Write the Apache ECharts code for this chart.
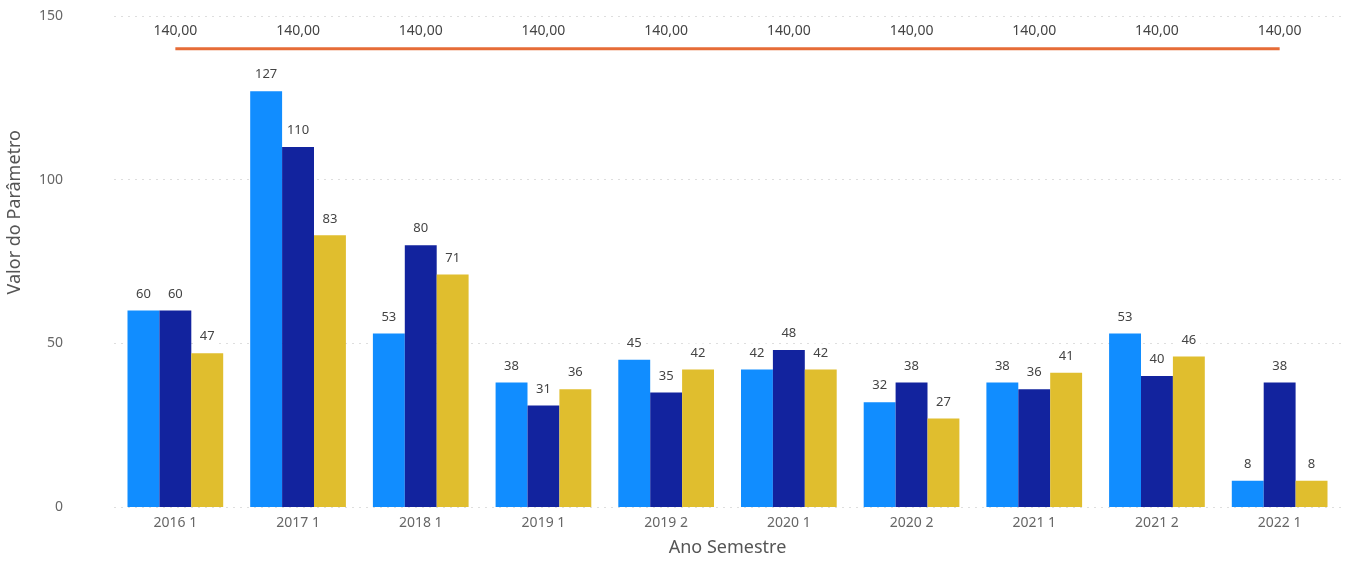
<!DOCTYPE html>
<html>
<head>
<meta charset="utf-8">
<script src="https://cdn.jsdelivr.net/npm/echarts@6/dist/echarts.min.js"></script>
<style>
  html, body { margin: 0; padding: 0; background: #fff; }
  #chart { width: 1362px; height: 564px; }
</style>
</head>
<body>
<div id="chart"></div>
<script>
// Semesters on the category axis
const categories = ['2016 1', '2017 1', '2018 1', '2019 1', '2019 2', '2020 1', '2020 2', '2021 1', '2021 2', '2022 1'];
// Parameter values per semester, three measurements each
const serieA = [60, 127, 53, 38, 45, 42, 32, 38, 53, 8];
const serieB = [60, 110, 80, 31, 35, 48, 38, 36, 40, 38];
const serieC = [47, 83, 71, 36, 42, 42, 27, 41, 46, 8];
// Reference limit
const limite = [140, 140, 140, 140, 140, 140, 140, 140, 140, 140];
const yTicks = [0, 50, 100, 150];

const FONT = 'Noto Sans';

const barLabel = {
  show: true,
  position: 'top',
  distance: 7,
  color: '#444',
  fontFamily: FONT,
  fontSize: 13,
  backgroundColor: '#fff',
  borderRadius: 3,
  padding: [3, 4]
};

function barSeries(name, data, color) {
  return {
    name: name,
    type: 'bar',
    data: data,
    barGap: '0%',
    barCategoryGap: '22%',
    itemStyle: { color: color },
    label: barLabel,
    emphasis: { disabled: true }
  };
}

const chart = echarts.init(document.getElementById('chart'));
chart.setOption({
  animation: false,
  grid: { left: 114, right: 21, top: 16, bottom: 57 },
  graphic: [{
    type: 'text',
    left: 6,
    top: 130,
    rotation: Math.PI / 2,
    style: {
      text: 'Valor do Parâmetro',
      fill: '#555',
      font: '18px "' + FONT + '"'
    }
  }],
  xAxis: {
    type: 'category',
    data: categories,
    name: 'Ano Semestre',
    nameLocation: 'middle',
    nameGap: 32,
    nameTextStyle: { color: '#555', fontFamily: FONT, fontSize: 18 },
    axisLine: { show: false },
    axisTick: { show: false },
    axisLabel: { color: '#666', fontFamily: FONT, fontSize: 14, margin: 9 }
  },
  yAxis: {
    type: 'value',
    min: yTicks[0],
    max: yTicks[yTicks.length - 1],
    interval: 50,
    axisLine: { show: false },
    axisTick: { show: false },
    axisLabel: { color: '#666', fontFamily: FONT, fontSize: 14, margin: 51 },
    splitLine: { lineStyle: { color: '#dedede', type: [2, 5], width: 1 } }
  },
  series: [
    barSeries('Série A', serieA, '#118DFF'),
    barSeries('Série B', serieB, '#12239E'),
    barSeries('Série C', serieC, '#E0BE2E'),
    {
      name: 'Limite',
      type: 'line',
      data: limite,
      symbol: 'circle',
      symbolSize: 1,
      showSymbol: true,
      itemStyle: { color: 'rgba(0,0,0,0)' },
      lineStyle: { color: '#E66C37', width: 3 },
      label: {
        show: true,
        position: 'top',
        distance: 8,
        color: '#444',
        fontFamily: FONT,
        fontSize: 14,
        backgroundColor: '#fff',
        padding: [2, 3],
        formatter: p => p.value.toFixed(2).replace('.', ',')
      },
      emphasis: { disabled: true },
      z: 5
    }
  ]
});
</script>
</body>
</html>
